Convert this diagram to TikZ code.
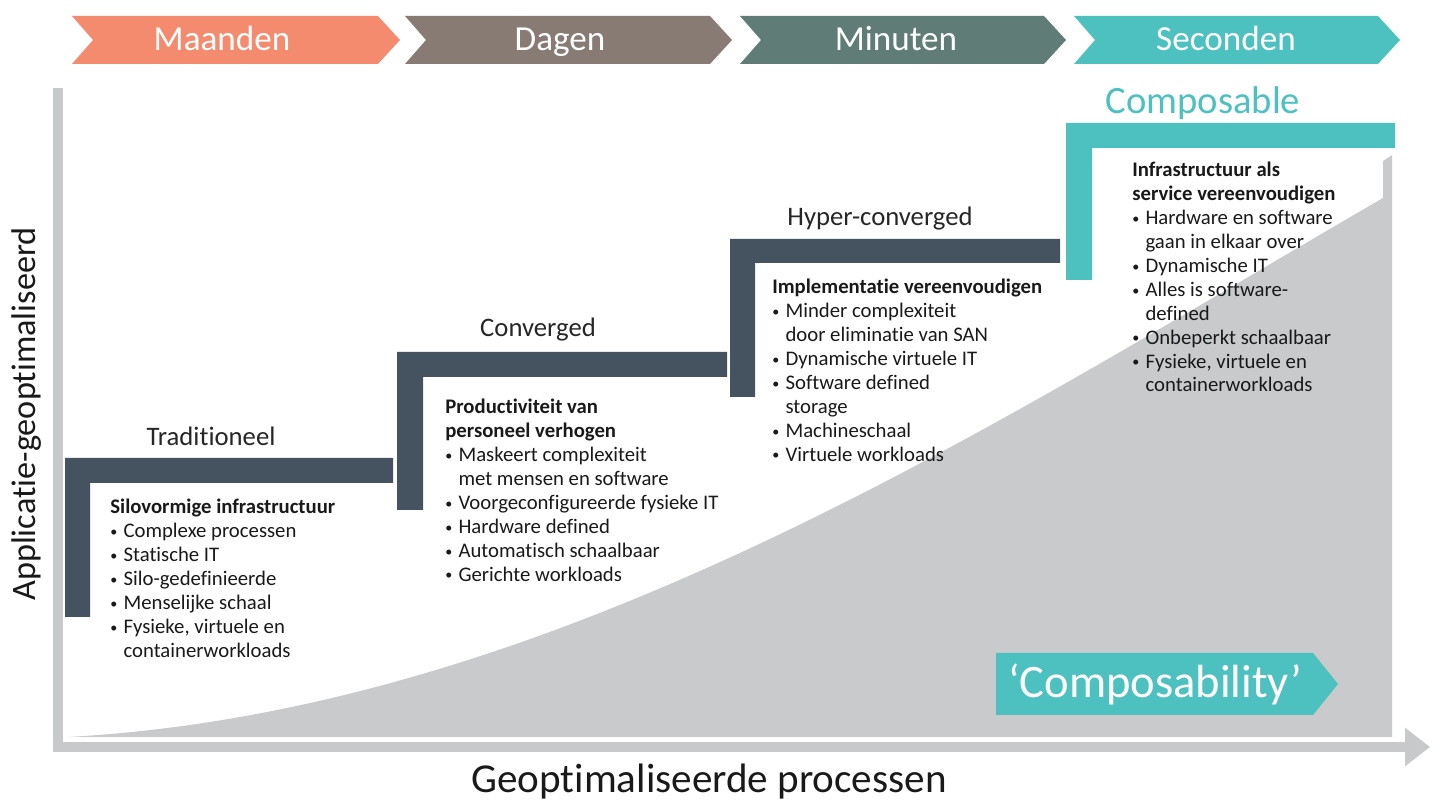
\documentclass[tikz,border=0pt]{standalone}
\usepackage{fontspec}
\setmainfont{Carlito}[Ligatures=NoCommon]
\usetikzlibrary{arrows.meta}
\definecolor{maand}{HTML}{F48B6F}
\definecolor{dag}{HTML}{877B73}
\definecolor{minu}{HTML}{5F7D76}
\definecolor{teal}{HTML}{4DC1C0}
\definecolor{slate}{HTML}{44535F}
\definecolor{area}{HTML}{C9CACC}
\definecolor{axis}{HTML}{C8C9CB}
\newcommand\blt{\raisebox{0.12ex}{\fontsize{8}{8}\selectfont\textbullet}\hspace{0.3em}}
\newcommand\nob{\phantom{\blt}}
\begin{document}
\begin{tikzpicture}[x=0.02cm,y=-0.02cm,
  phase/.style={anchor=base, text=white, font=\fontsize{20}{24}\selectfont},
  steplabel/.style={anchor=base, text=black!85, font=\fontsize{15.2}{18}\selectfont},
  blok/.style={anchor=north west, align=left, inner sep=0pt, text=black!90, font=\fontsize{11.8}{13.6}\selectfont}]
\useasboundingbox (0,0) rectangle (1438,803);

\fill[area] (68,737) .. controls (560,710) and (1000,420) .. (1383,198) -- (1383,161) -- (1392,155) -- (1392,737) -- cycle;

\fill[maand] (72,16) -- (378,16) -- (400,40) -- (378,64) -- (72,64) -- (93,40) -- cycle;
\fill[dag] (405,16) -- (710,16) -- (732,40) -- (710,64) -- (405,64) -- (426,40) -- cycle;
\fill[minu] (740,16) -- (1044,16) -- (1066,40) -- (1044,64) -- (740,64) -- (761,40) -- cycle;
\fill[teal] (1074,16) -- (1378,16) -- (1400,40) -- (1378,64) -- (1074,64) -- (1095,40) -- cycle;
\node[phase] (maa) at (222,51) {Maanden};
\node[phase] (dag) at (560,51) {Dagen};
\node[phase] (min) at (896,51) {Minuten};
\node[phase] (sec) at (1226,51) {Seconden};

\fill[slate] (65,458) -- (393,458) -- (393,483) -- (90,483) -- (90,617) -- (65,617) -- cycle;
\fill[slate] (397,352) -- (727,352) -- (727,377) -- (423,377) -- (423,510) -- (397,510) -- cycle;
\fill[slate] (730,239) -- (1060,239) -- (1060,263) -- (755,263) -- (755,397) -- (730,397) -- cycle;
\fill[teal] (1066,123) -- (1395,123) -- (1395,148) -- (1092,148) -- (1092,280) -- (1066,280) -- cycle;

\node[steplabel] (trad) at (211,446) {Traditioneel};
\node[steplabel] (conv) at (538,337) {Converged};
\node[steplabel] (hyp) at (880,226) {Hyper-converged};
\node[anchor=base, text=teal, font=\fontsize{22}{26}\selectfont] (comp) at (1203,114) {Composable};

\node[blok] (silo) at (110,499) {\textbf{Silovormige infrastructuur}\\
\blt Complexe processen\\
\blt Statische IT\\
\blt Silo-gedefinieerde\\
\blt Menselijke schaal\\
\blt Fysieke, virtuele en\\
\nob containerworkloads};

\node[blok] (prod) at (445,399) {\textbf{Productiviteit van}\\
\textbf{personeel verhogen}\\
\blt Maskeert complexiteit\\
\nob met mensen en software\\
\blt Voorgeconfigureerde fysieke IT\\
\blt Hardware defined\\
\blt Automatisch schaalbaar\\
\blt Gerichte workloads};

\node[blok] (impl) at (772,279) {\textbf{Implementatie vereenvoudigen}\\
\blt Minder complexiteit\\
\nob door eliminatie van SAN\\
\blt Dynamische virtuele IT\\
\blt Software defined\\
\nob storage\\
\blt Machineschaal\\
\blt Virtuele workloads};

\node[blok] (infra) at (1132,162) {\textbf{Infrastructuur als}\\
\textbf{service vereenvoudigen}\\
\blt Hardware en software\\
\nob gaan in elkaar over\\
\blt Dynamische IT\\
\blt Alles is software-\\
\nob defined\\
\blt Onbeperkt schaalbaar\\
\blt Fysieke, virtuele en\\
\nob containerworkloads};

\fill[teal] (996,653) -- (1313,653) -- (1338,684) -- (1313,715) -- (996,715) -- cycle;
\node[text=white, font=\fontsize{26.5}{30}\selectfont] (cbl) at (1155,684) {‘Composability’};

\coordinate (ytop) at (58,88);
\coordinate (orig) at (58,747);
\coordinate (xend) at (1430,747);
\draw[axis, line width=0.2cm, -{Triangle[length=0.5cm,width=0.74cm]}] (ytop) -- (orig) -- (xend);

\node[rotate=90, text=black!90, font=\fontsize{19.5}{22}\selectfont] (ylab) at (27,414) {Applicatie-geoptimaliseerd};
\node[text=black!90, font=\fontsize{23.4}{27}\selectfont] (xlab) at (709,782) {Geoptimaliseerde processen};
\end{tikzpicture}
\end{document}
